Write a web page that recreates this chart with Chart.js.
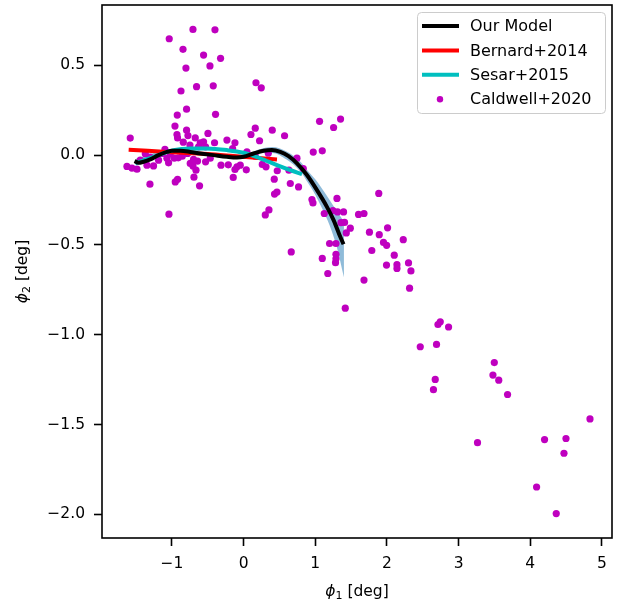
<!DOCTYPE html>
<html>
<head>
<meta charset="utf-8">
<script src="https://cdn.jsdelivr.net/npm/chart.js@4/dist/chart.umd.min.js"></script>
<style>
  body { margin: 0; background: #fff; }
  #wrap { width: 624px; height: 603px; }
</style>
</head>
<body>
<div id="wrap"><canvas id="chart" width="624" height="603"></canvas></div>
<script>
// tick labels
const xTicks = [-1, 0, 1, 2, 3, 4, 5]
const yTicks = [0.5, 0.0, -0.5, -1.0, -1.5, -2.0]

// Our Model (black curve)
const modelX = [-1.521, -1.465, -1.395, -1.302, -1.186, -1.069, -0.999, -0.883, -0.744, -0.604, -0.419, -0.232, -0.092, 0.0, 0.14, 0.279, 0.396, 0.512, 0.628, 0.745, 0.884, 1.024, 1.163, 1.256, 1.349, 1.395]
const modelY = [-0.033, -0.043, -0.037, -0.024, 0.0, 0.018, 0.024, 0.024, 0.018, 0.009, 0.0, -0.009, -0.013, -0.009, 0.009, 0.024, 0.028, 0.018, -0.006, -0.046, -0.111, -0.195, -0.288, -0.362, -0.455, -0.496]

// uncertainty band round the model
const bandX  = [-1.5, -1.0, -0.5, 0.0, 0.2, 0.4, 0.6, 0.8, 0.9, 1.0, 1.1, 1.2, 1.3, 1.4]
const bandHi = [-0.02, 0.032, 0.013, -0.001, 0.03, 0.045, 0.02, -0.04, -0.09, -0.135, -0.19, -0.25, -0.31, -0.37]
const bandLo = [-0.04, 0.016, -0.003, -0.017, 0.01, 0.012, -0.025, -0.095, -0.155, -0.22, -0.3, -0.39, -0.51, -0.68]

// Bernard+2014 (red)
const bernardX = [-1.603, -1.07, -0.5, -0.14, 0.466]
const bernardY = [0.030, 0.018, 0.006, -0.005, -0.024]

// Sesar+2015 (cyan)
const sesarX = [-1.511, -1.186, -0.977, -0.744, -0.511, -0.232, 0.0, 0.233, 0.466, 0.652, 0.815]
const sesarY = [-0.046, 0.0, 0.028, 0.037, 0.037, 0.028, 0.013, -0.018, -0.056, -0.084, -0.106]

// Caldwell+2020 (magenta points)
const caldwellX = [-0.706, -0.399, -1.037, -0.845, -0.558, -0.321, -0.469, -0.804, -0.873, -0.656,
  -0.423, 0.173, 0.247, -0.795, -0.925, -0.391, -0.957, 1.060, 1.353, 1.256,
  0.163, -1.581, -0.795, -0.929, -0.776, -0.921, -0.674, -0.497, 0.400, 0.103,
  0.572, -0.232, -0.120, 0.223, -0.405, -0.604, -0.841, -0.748, -0.558, -0.530,
  -0.628, -1.097, 0.047, 0.972, 1.098, -0.153, -1.138, -1.069, -1.046, -1.186,
  -1.256, -1.348, -1.441, -1.627, -1.557, -1.487, -0.911, -0.781, -0.744, -0.706,
  -0.664, -0.642, -0.698, -0.530, -0.315, -0.213, -0.120, -0.092, -0.046, 0.038,
  0.261, 0.313, 0.470, 0.633, 0.745, 0.833, -0.967, -0.855, -1.023, -0.465,
  0.163, 0.345, -1.302, -0.144, 0.428, 0.432, 0.466, -1.306, -0.953, -0.921,
  -0.692, -0.614, 0.652, 0.767, -1.041, 0.354, 0.303, 0.665, 0.954, 0.968,
  1.303, 1.126, 1.247, 1.311, 1.395, 1.359, 1.409, 1.489, 1.433, 1.200,
  1.289, 1.289, 1.289, 1.283, 1.098, 1.175, 1.419, 1.604, 1.680, 1.886,
  1.756, 1.893, 2.009, 2.228, 1.952, 1.996, 1.789, 1.680, 2.102, 1.994,
  2.140, 2.140, 2.301, 2.335, 2.316, 2.712, 2.744, 2.860, 2.465, 2.692,
  2.674, 2.649, 3.498, 3.479, 3.560, 3.683, 3.264, 4.833, 4.199, 4.498,
  4.470, 4.088, 4.362, -1.371]
const caldwellY = [0.700, 0.698, 0.648, 0.589, 0.557, 0.539, 0.497, 0.485, 0.357, 0.381,
  0.386, 0.403, 0.375, 0.256, 0.223, 0.227, 0.162, 0.188, 0.201, 0.154,
  0.150, 0.095, 0.139, 0.115, 0.109, 0.096, 0.096, 0.121, 0.139, 0.115,
  0.108, 0.084, 0.069, 0.080, 0.069, 0.069, 0.072, 0.056, 0.074, 0.046,
  0.046, 0.032, 0.018, 0.017, 0.024, 0.037, 0.009, -0.018, -0.043, -0.028,
  -0.060, -0.056, -0.028, -0.063, -0.072, -0.078, -0.015, 0.009, -0.046, -0.061,
  -0.084, -0.033, -0.024, -0.037, -0.056, -0.054, -0.080, -0.065, -0.056, -0.082,
  -0.052, -0.065, -0.087, -0.084, -0.017, -0.075, -0.017, -0.006, 0.006, -0.017,
  -0.006, 0.011, -0.011, -0.124, -0.134, -0.217, -0.206, -0.162, -0.149, -0.135,
  -0.123, -0.171, -0.158, -0.177, -0.329, -0.305, -0.333, -0.539, -0.247, -0.266,
  -0.241, -0.325, -0.309, -0.316, -0.316, -0.376, -0.375, -0.407, -0.433, -0.492,
  -0.492, -0.552, -0.577, -0.599, -0.575, -0.659, -0.852, -0.330, -0.325, -0.213,
  -0.429, -0.443, -0.405, -0.471, -0.486, -0.502, -0.531, -0.696, -0.557, -0.612,
  -0.610, -0.631, -0.600, -0.645, -0.741, -0.943, -0.928, -0.957, -1.067, -1.054,
  -1.249, -1.306, -1.155, -1.225, -1.253, -1.333, -1.601, -1.469, -1.584, -1.578,
  -1.660, -1.848, -1.996, 0.008]

const legendLabels = ["Our Model", "Bernard+2014", "Sesar+2015", "Caldwell+2020"]

const FONT = "'DejaVu Sans', sans-serif"

function toPoints(xs, ys){
    return xs.map((x, i) => ({x: x, y: ys[i]}))
}

// matplotlib style minus sign
function fmt(v, digits){
    const s = Math.abs(v).toFixed(digits)
    return v < 0 ? "\u2212" + s : s
}

// frame round the plot area, like matplotlib spines
const framePlugin = {
    id: "frame",
    afterDatasetsDraw(chart){
        const a = chart.chartArea
        const ctx = chart.ctx
        ctx.save()
        ctx.strokeStyle = "#000"
        ctx.lineWidth = 1.6
        ctx.strokeRect(a.left, a.top, a.right - a.left, a.bottom - a.top)
        ctx.restore()
    }
}

// axis titles: italic phi with a subscript, then upright "[deg]"
function drawPhiLabel(ctx, sub, cx, cy){
    const main = "italic 15.5px " + FONT
    const small = "11px " + FONT
    const rest = "15.5px " + FONT
    ctx.font = main
    const w1 = ctx.measureText("\u03d5").width
    ctx.font = small
    const w2 = ctx.measureText(sub).width
    ctx.font = rest
    const w3 = ctx.measureText(" [deg]").width
    let x = cx - (w1 + w2 + w3) / 2
    ctx.textBaseline = "alphabetic"
    ctx.textAlign = "left"
    ctx.font = main
    ctx.fillText("\u03d5", x, cy)
    x += w1
    ctx.font = small
    ctx.fillText(sub, x, cy + 3)
    x += w2
    ctx.font = rest
    ctx.fillText(" [deg]", x, cy)
}

const titlePlugin = {
    id: "axisTitles",
    afterDraw(chart){
        const ctx = chart.ctx
        const a = chart.chartArea
        ctx.save()
        ctx.fillStyle = "#000"
        drawPhiLabel(ctx, "1", (a.left + a.right) / 2, 596)
        ctx.translate(27, (a.top + a.bottom) / 2)
        ctx.rotate(-Math.PI / 2)
        drawPhiLabel(ctx, "2", 0, 0)
        ctx.restore()
    }
}

// legend box in the upper right corner
const legendPlugin = {
    id: "boxLegend",
    afterDraw(chart){
        const ctx = chart.ctx
        const x0 = 417.5, y0 = 12.5, w = 188, h = 101
        ctx.save()
        ctx.fillStyle = "rgba(255,255,255,0.85)"
        ctx.strokeStyle = "#cccccc"
        ctx.lineWidth = 1
        ctx.beginPath()
        ctx.roundRect(x0, y0, w, h, 4)
        ctx.fill()
        ctx.stroke()
        const colors = ["#000000", "#ff0000", "#00bfbf", "#bf00bf"]
        ctx.font = "16px " + FONT
        ctx.textBaseline = "middle"
        ctx.fillStyle = "#000"
        legendLabels.forEach((label, i) => {
            const y = 26 + i * 24.4
            if (i < 3){
                ctx.strokeStyle = colors[i]
                ctx.lineWidth = 4
                ctx.beginPath()
                ctx.moveTo(422, y)
                ctx.lineTo(459, y)
                ctx.stroke()
            } else {
                ctx.fillStyle = colors[i]
                ctx.beginPath()
                ctx.arc(440, y, 3.2, 0, Math.PI * 2)
                ctx.fill()
            }
            ctx.fillStyle = "#000"
            ctx.fillText(label, 470, y + 1)
        })
        ctx.restore()
    }
}

function makeChart(){
    new Chart(document.getElementById("chart"), {
        type: "scatter",
        data: {
            datasets: [
                {
                    type: "line", label: legendLabels[0],
                    data: toPoints(modelX, modelY),
                    borderColor: "#000000", borderWidth: 4,
                    pointRadius: 0, cubicInterpolationMode: "monotone",
                    fill: false, order: 0
                },
                {
                    type: "line", label: legendLabels[2],
                    data: toPoints(sesarX, sesarY),
                    borderColor: "#00bfbf", borderWidth: 4,
                    pointRadius: 0, cubicInterpolationMode: "monotone",
                    fill: false, order: 1
                },
                {
                    type: "line", label: legendLabels[1],
                    data: toPoints(bernardX, bernardY),
                    borderColor: "#ff0000", borderWidth: 4,
                    pointRadius: 0, tension: 0.3,
                    fill: false, order: 2
                },
                {
                    label: legendLabels[3],
                    data: toPoints(caldwellX, caldwellY),
                    backgroundColor: "#bf00bf", borderWidth: 0,
                    pointRadius: 3.6, order: 3
                },
                {
                    type: "line", label: "band high",
                    data: toPoints(bandX, bandHi),
                    borderWidth: 0, borderColor: "rgba(0,0,0,0)",
                    backgroundColor: "rgba(31,119,180,0.5)",
                    pointRadius: 0, cubicInterpolationMode: "monotone",
                    fill: "+1", order: 4
                },
                {
                    type: "line", label: "band low",
                    data: toPoints(bandX, bandLo),
                    borderWidth: 0, borderColor: "rgba(0,0,0,0)",
                    pointRadius: 0, cubicInterpolationMode: "monotone",
                    fill: false, order: 5
                }
            ]
        },
        options: {
            responsive: false,
            animation: false,
            events: [],
            layout: { padding: { top: 5, right: 12, left: 0, bottom: 0 } },
            plugins: {
                legend: { display: false },
                tooltip: { enabled: false }
            },
            scales: {
                x: {
                    type: "linear", min: -1.975, max: 5.14,
                    afterFit: (s) => { s.height = 65; s.paddingLeft = 0; s.paddingRight = 0 },
                    afterBuildTicks: (s) => { s.ticks = xTicks.map(v => ({value: v})) },
                    grid: { drawOnChartArea: false, drawTicks: true, tickLength: 8, tickWidth: 1.6, tickColor: "#000" },
                    border: { display: false },
                    ticks: {
                        color: "#000", padding: 9,
                        font: { family: FONT, size: 15.5 },
                        callback: (v) => fmt(v, 0)
                    },
                    title: { display: false }
                },
                y: {
                    type: "linear", min: -2.132, max: 0.836,
                    afterFit: (s) => { s.width = 102; s.paddingTop = 0; s.paddingBottom = 0 },
                    afterBuildTicks: (s) => { s.ticks = yTicks.map(v => ({value: v})) },
                    grid: { drawOnChartArea: false, drawTicks: true, tickLength: 8, tickWidth: 1.6, tickColor: "#000" },
                    border: { display: false },
                    ticks: {
                        color: "#000", padding: 9,
                        font: { family: FONT, size: 15.5 },
                        callback: (v) => fmt(v, 1)
                    },
                    title: { display: false }
                }
            }
        },
        plugins: [framePlugin, titlePlugin, legendPlugin]
    })
}

makeChart()
</script>
</body>
</html>
